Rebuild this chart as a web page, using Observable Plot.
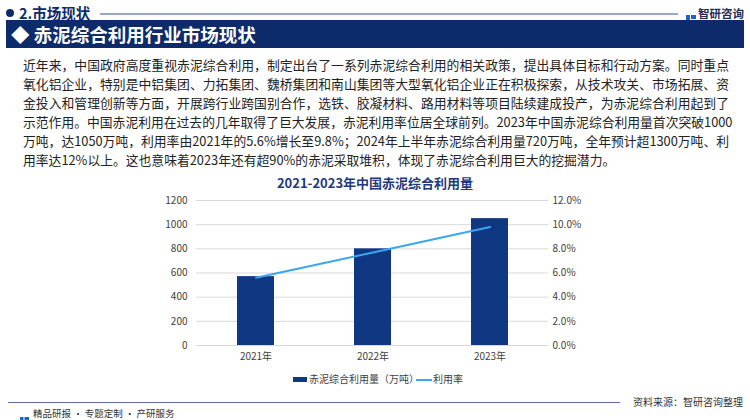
<!DOCTYPE html>
<html>
<head>
<meta charset="utf-8">
<script src="https://cdn.jsdelivr.net/npm/d3@7"></script>
<script src="https://cdn.jsdelivr.net/npm/@observablehq/plot@0.6"></script>
<style>
  html, body { margin: 0; padding: 0; background: #fff; }
  body { width: 750px; height: 420px; position: relative; overflow: hidden;
         font-family: "Noto Sans CJK SC", "Noto Sans", sans-serif; }
  .abs { position: absolute; }
  .para { left: 23px; width: 706px; font-size: 12.8px; color: #222; line-height: 19px; }
  .para div { height: 19px; text-align: justify; text-align-last: justify; white-space: nowrap; }
  .para div.last { text-align-last: left; }
  #chart { position: absolute; left: 0; top: 190px; }
</style>
</head>
<body>
<!-- header -->
<div class="abs" style="left:6px;top:9px;width:8px;height:8px;border-radius:50%;background:#0D2A6A;"></div>
<div class="abs" id="section" style="left:19px;top:5px;font-size:14.5px;font-weight:bold;color:#0D2A6A;line-height:15px;"></div>
<div class="abs" style="left:100px;top:13px;width:578px;height:1.5px;background:#9AA6C8;"></div>
<div class="abs" style="left:686px;top:7px;width:10px;height:12px;">
  <svg width="10" height="12"><rect x="0" y="1" width="4" height="10" fill="#1E63C4"/><rect x="5" y="1" width="5" height="4" fill="#1E63C4"/><rect x="5" y="7" width="5" height="4" fill="#2CB7D6"/></svg>
</div>
<div class="abs" id="brand" style="left:698px;top:6px;font-size:11.5px;font-weight:bold;color:#1F2A55;line-height:14px;"></div>

<!-- title bar -->
<div class="abs" style="left:6px;top:20px;width:738px;height:28px;background:#0D2A6A;"></div>
<div class="abs" id="bartitle" style="left:11px;top:22px;font-size:18.5px;font-weight:bold;color:#fff;line-height:24px;"></div>

<!-- paragraph -->
<div class="abs para" id="para" style="top:55px;"></div>

<!-- chart title -->
<div class="abs" id="ctitle" style="left:0;width:750px;top:173px;text-align:center;font-size:13px;font-weight:bold;color:#1F3A7A;line-height:20px;"></div>

<div id="chart"></div>

<!-- legend -->
<div class="abs" style="left:293px;top:377px;width:14px;height:5px;background:#0F3782;"></div>
<div class="abs" id="leg1" style="left:309px;top:371px;font-size:10px;color:#404040;line-height:16px;"></div>
<div class="abs" style="left:416px;top:378.5px;width:16px;height:2px;background:#3BA6EE;"></div>
<div class="abs" id="leg2" style="left:433px;top:371px;font-size:10px;color:#404040;line-height:16px;"></div>

<!-- footer -->
<div class="abs" style="left:8px;top:402px;width:612px;height:1px;background:#5B6DA6;"></div>
<div class="abs" id="source" style="left:633px;top:394px;font-size:10px;color:#333;line-height:16px;"></div>
<div class="abs" style="left:20px;top:408px;width:9px;height:10px;">
  <svg width="9" height="10"><rect x="0" y="0" width="3.5" height="10" fill="#1E63C4"/><rect x="4.5" y="0" width="4.5" height="4" fill="#1E63C4"/><rect x="4.5" y="6" width="4.5" height="4" fill="#2CB7D6"/></svg>
</div>
<div class="abs" id="footer" style="left:33px;top:406px;font-size:9.5px;color:#333;line-height:14px;"></div>

<script>
// ---- texts ----
const sectionTitle = "2.市场现状";
const brandName = "智研咨询";
const barTitle = "◆ 赤泥综合利用行业市场现状";
const paragraphLines = [
  "近年来，中国政府高度重视赤泥综合利用，制定出台了一系列赤泥综合利用的相关政策，提出具体目标和行动方案。同时重点",
  "氧化铝企业，特别是中铝集团、力拓集团、魏桥集团和南山集团等大型氧化铝企业正在积极探索，从技术攻关、市场拓展、资",
  "金投入和管理创新等方面，开展跨行业跨国别合作，选铁、胶凝材料、路用材料等项目陆续建成投产，为赤泥综合利用起到了",
  "示范作用。中国赤泥利用在过去的几年取得了巨大发展，赤泥利用率位居全球前列。2023年中国赤泥综合利用量首次突破1000",
  "万吨，达1050万吨，利用率由2021年的5.6%增长至9.8%；2024年上半年赤泥综合利用量720万吨，全年预计超1300万吨、利",
  "用率达12%以上。这也意味着2023年还有超90%的赤泥采取堆积，体现了赤泥综合利用巨大的挖掘潜力。"
];
const chartTitle = "2021-2023年中国赤泥综合利用量";
const seriesBarName = "赤泥综合利用量（万吨）";
const seriesLineName = "利用率";
const sourceText = "资料来源：智研咨询整理";
const footerText = "精品研报 · 专题定制 · 产研服务";

// ---- data ----
const years = ["2021年", "2022年", "2023年"];
const volume = [570, 800, 1050];          // 万吨
const rate = [5.6, 7.7, 9.8];             // %
const leftTicks = [0, 200, 400, 600, 800, 1000, 1200];
const rightTicks = [0, 2, 4, 6, 8, 10, 12]; // %

// ---- fill text ----
document.getElementById("section").textContent = sectionTitle;
document.getElementById("brand").textContent = brandName;
document.getElementById("bartitle").textContent = barTitle;
const para = document.getElementById("para");
paragraphLines.forEach((t, i) => {
  const d = document.createElement("div");
  d.textContent = t;
  if (i === paragraphLines.length - 1) d.className = "last";
  para.appendChild(d);
});
document.getElementById("ctitle").textContent = chartTitle;
document.getElementById("leg1").textContent = seriesBarName;
document.getElementById("leg2").textContent = seriesLineName;
document.getElementById("source").textContent = sourceText;
document.getElementById("footer").textContent = footerText;

// ---- chart ----
const yMax = 1200, rMax = 12;
const k = yMax / rMax; // map rate onto the left scale
const data = years.map((y, i) => ({year: y, volume: volume[i], rate: rate[i]}));

const chart = Plot.plot({
  width: 750,
  height: 180,
  marginTop: 10,
  marginBottom: 25,
  marginLeft: 196,
  marginRight: 202,
  style: {fontFamily: "'Noto Sans CJK SC', sans-serif", fontSize: "10px", color: "#595959", background: "transparent"},
  x: {domain: years, paddingInner: 0.684, paddingOuter: 0.342, label: null},
  y: {domain: [0, yMax], label: null},
  marks: [
    Plot.gridY(leftTicks, {stroke: "#D9D9D9", strokeOpacity: 1}),
    Plot.barY(data, {x: "year", y: "volume", fill: "#0F3782"}),
    Plot.line(data, {x: "year", y: d => d.rate * k, stroke: "#3BA6EE", strokeWidth: 2}),
    Plot.axisX({tickSize: 0, tickPadding: 7, fontSize: 10, fill: "#404040"}),
    Plot.axisY({ticks: leftTicks, tickSize: 0, tickPadding: 9, fontSize: 10, fill: "#404040", label: null,
      tickFormat: v => String(v)}),
    Plot.axisY({anchor: "right", ticks: rightTicks.map(r => r * k), tickSize: 0, tickPadding: 4,
      tickFormat: v => (v / k).toFixed(1) + "%", fontSize: 10, fill: "#404040", label: null})
  ]
});
document.getElementById("chart").appendChild(chart);
</script>
</body>
</html>
